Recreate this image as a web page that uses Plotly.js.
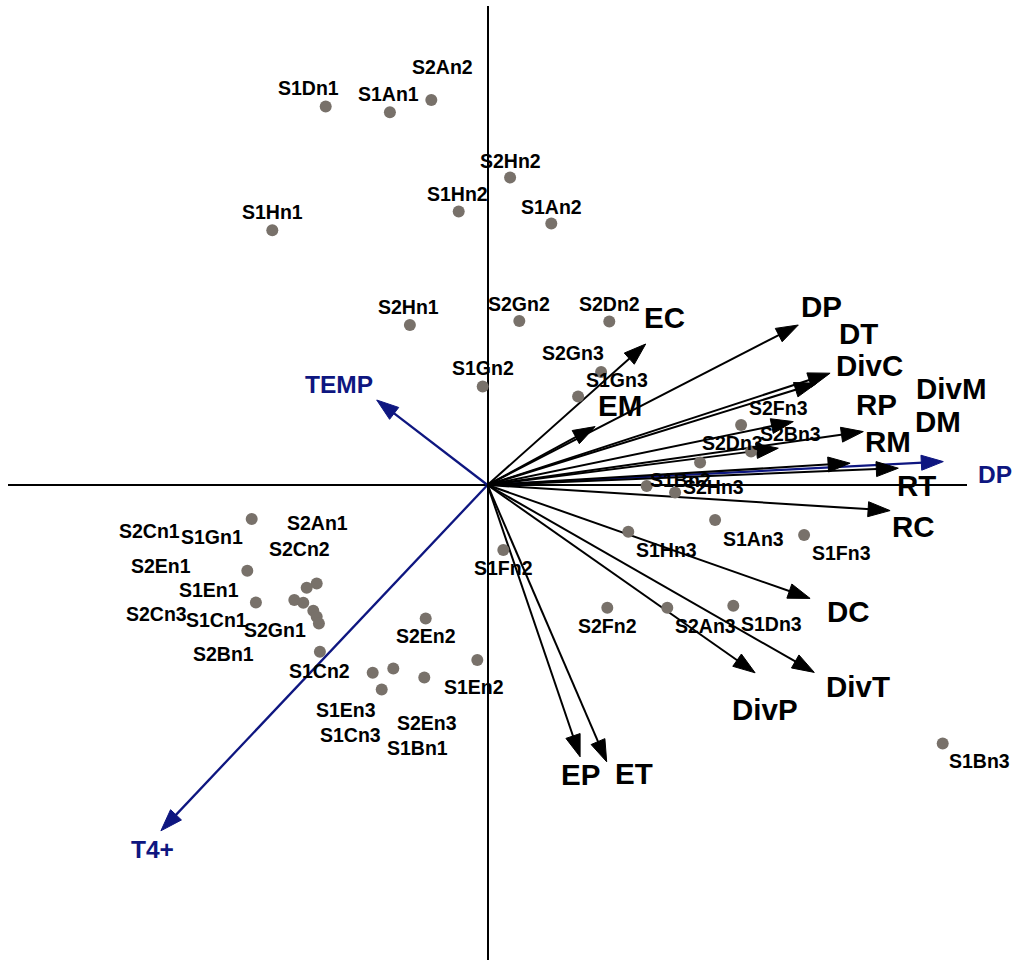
<!DOCTYPE html>
<html>
<head>
<meta charset="utf-8">
<script src="https://cdn.plot.ly/plotly-3.0.1.min.js"></script>
<style>
  html, body { margin: 0; padding: 0; background: #ffffff; }
  #chart { width: 1014px; height: 962px; }
</style>
</head>
<body>
<div id="chart"></div>
<script>
// ---- Sample scores (site points) ----
const sampleNames = [
  "S1Dn1", "S1An1", "S2An2", "S2Hn2", "S1Hn2", "S1An2", "S1Hn1", "S2Hn1",
  "S2Gn2", "S2Dn2", "S1Gn2", "S2Gn3", "S1Gn3",
  "S2Fn3", "S2Bn3", "S2Dn3", "S1Bn2", "S2Hn3", "S1Hn3", "S1An3", "S1Fn3",
  "S1Fn2", "S2Fn2", "S2An3", "S1Dn3", "S1Bn3",
  "S1Gn1", "S2Cn1", "S1En1", "S2An1", "S2Cn2", "S2En1", "S2Cn3", "S1Cn1",
  "S2Gn1", "S2Bn1", "S1Cn2",
  "S2En2", "S1En2", "S1En3", "S1Cn3", "S2En3", "S1Bn1"
];
const sampleX = [
  -0.809, -0.488, -0.281, 0.113, -0.144, 0.319, -1.076, -0.388,
  0.159, 0.609, -0.024, 0.568, 0.453,
  1.268, 1.318, 1.063, 0.796, 0.938, 0.704, 1.138, 1.583,
  0.079, 0.599, 0.899, 1.229, 2.276,
  -1.179, -1.201, -1.158, -0.854, -0.904, -0.966, -0.921, -0.871,
  -0.854, -0.843, -0.838,
  -0.309, -0.051, -0.574, -0.529, -0.316, -0.471
];
const sampleY = [
  1.892, 1.864, 1.925, 1.537, 1.367, 1.307, 1.274, 0.800,
  0.820, 0.817, 0.492, 0.565, 0.442,
  0.300, 0.167, 0.113, -0.005, -0.038, -0.234, -0.175, -0.250,
  -0.325, -0.614, -0.614, -0.604, -1.292,
  -0.170, -0.429, -0.587, -0.492, -0.514, -0.575, -0.589, -0.629,
  -0.659, -0.692, -0.834,
  -0.667, -0.875, -0.939, -1.022, -0.962, -0.917
];
// label placement offsets (pixels: right, up)
const sampleLabelDX = [
  -17, -1, 11, 0, -1, 0, 0, -1,
  0, 0, 0, -28, 39,
  37, 39, 32, 34, 38, 38, 38, 37,
  0, 0, 38, 38, 37,
  -40, -98, -47, 1, -7, -133, -147, -97,
  -42, -95, 0,
  0, -3, -27, -31, 3, 24
];
const sampleLabelDY = [
  19, 18, 33, 17, 18, 17, 18, 18,
  17, 18, 19, 19, 17,
  17, 18, 19, 6, 6, -18, -19, -18,
  -18, -18, -18, -18, -18,
  -18, 40, 12, 60, 39, 34, -11, -9,
  -13, -31, -19,
  -18, -27, -37, -46, -46, -80
];

// ---- Response variable arrows ----
const varNames = ["EC", "EM", "DP", "DT", "DivC", "DivM", "DM", "RP",
                  "RM", "RT", "RC", "DC", "DivT", "DivP", "EP", "ET"];
const varX = [0.791, 0.538, 1.554, 1.713, 1.646, 1.529, 1.454, 1.879,
              1.813, 2.054, 2.013, 1.613, 1.634, 1.338, 0.463, 0.596];
const varY = [0.705, 0.292, 0.800, 0.559, 0.509, 0.317, 0.184, 0.267,
              0.109, 0.084, -0.128, -0.567, -0.937, -0.939, -1.359, -1.384];
const varLabelDX = [19, 25, 23, 28, 53, 158, 160, 13, 38, 18, 23, 38, 44, 10, 0, 27];
const varLabelDY = [27, 21, 19, 40, 18, 33, 27, 27, 22, -17, -16, -13, -14, -37, -18, -12];

// ---- Environmental variable arrows ----
const envNames = ["DP", "TEMP", "T4+"];
const envX = [2.279, -0.554, -1.633];
const envY = [0.117, 0.425, -1.729];
const envLabelDX = [52, -38, -8];
const envLabelDY = [-13, 16, -19];

const BLACK = "#000000";
const NAVY = "#0e1680";
const DOT = "#78716a";
const PX_PER_UNIT = 200;               // both axes share this scale
const HEAD_LEN = 22 / PX_PER_UNIT;
const HEAD_HALF = 7.5 / PX_PER_UNIT;

// Build shafts and filled heads for a set of arrows starting at the origin
function arrowTraces(xs, ys, color, width) {
  const sx = [], sy = [], hx = [], hy = [];
  for (let i = 0; i < xs.length; i++) {
    const tx = xs[i], ty = ys[i];
    const len = Math.hypot(tx, ty);
    const ux = tx / len, uy = ty / len;
    const bx = tx - ux * HEAD_LEN, by = ty - uy * HEAD_LEN;
    sx.push(0, bx + ux * HEAD_LEN * 0.3, null);
    sy.push(0, by + uy * HEAD_LEN * 0.3, null);
    hx.push(tx, bx - uy * HEAD_HALF, bx + uy * HEAD_HALF, tx, null);
    hy.push(ty, by + ux * HEAD_HALF, by - ux * HEAD_HALF, ty, null);
  }
  return [
    { x: sx, y: sy, mode: "lines", line: { color: color, width: width },
      hoverinfo: "skip", showlegend: false, cliponaxis: false },
    { x: hx, y: hy, mode: "lines", fill: "toself", fillcolor: color,
      line: { color: color, width: 1 }, hoverinfo: "skip", showlegend: false,
      cliponaxis: false }
  ];
}

const traces = [];
traces.push(...arrowTraces(envX, envY, NAVY, 2.3));
traces.push(...arrowTraces(varX, varY, BLACK, 2));
traces.push({
  x: sampleX, y: sampleY, text: sampleNames, mode: "markers",
  marker: { size: 12, color: DOT }, hoverinfo: "text",
  showlegend: false, cliponaxis: false
});

const fontFam = "Arial, 'Liberation Sans', sans-serif";
const annotations = [];
sampleNames.forEach((n, i) => annotations.push({
  x: sampleX[i], y: sampleY[i], text: n, showarrow: false,
  xshift: sampleLabelDX[i], yshift: sampleLabelDY[i],
  xanchor: "center", yanchor: "middle",
  font: { family: fontFam, size: 19.5, color: BLACK, weight: "bold" }
}));
varNames.forEach((n, i) => annotations.push({
  x: varX[i], y: varY[i], text: n, showarrow: false,
  xshift: varLabelDX[i], yshift: varLabelDY[i],
  xanchor: "center", yanchor: "middle",
  font: { family: fontFam, size: 29.5, color: BLACK, weight: "bold" }
}));
envNames.forEach((n, i) => annotations.push({
  x: envX[i], y: envY[i], text: n, showarrow: false,
  xshift: envLabelDX[i], yshift: envLabelDY[i],
  xanchor: "center", yanchor: "middle",
  font: { family: fontFam, size: 24.5, color: NAVY, weight: "bold" }
}));

const layout = {
  width: 1014, height: 962,
  margin: { l: 8, r: 47, t: 6, b: 2, pad: 0 },
  paper_bgcolor: "#ffffff", plot_bgcolor: "#ffffff",
  showlegend: false,
  xaxis: {
    range: [-2.3975, 2.3975], showgrid: false, showticklabels: false,
    ticks: "", showline: false, zeroline: true, zerolinecolor: BLACK,
    zerolinewidth: 2, fixedrange: true
  },
  yaxis: {
    range: [-2.375, 2.395], showgrid: false, showticklabels: false,
    ticks: "", showline: false, zeroline: true, zerolinecolor: BLACK,
    zerolinewidth: 2, fixedrange: true
  },
  annotations: annotations
};

Plotly.newPlot("chart", traces, layout, { displayModeBar: false, staticPlot: true });
</script>
</body>
</html>
